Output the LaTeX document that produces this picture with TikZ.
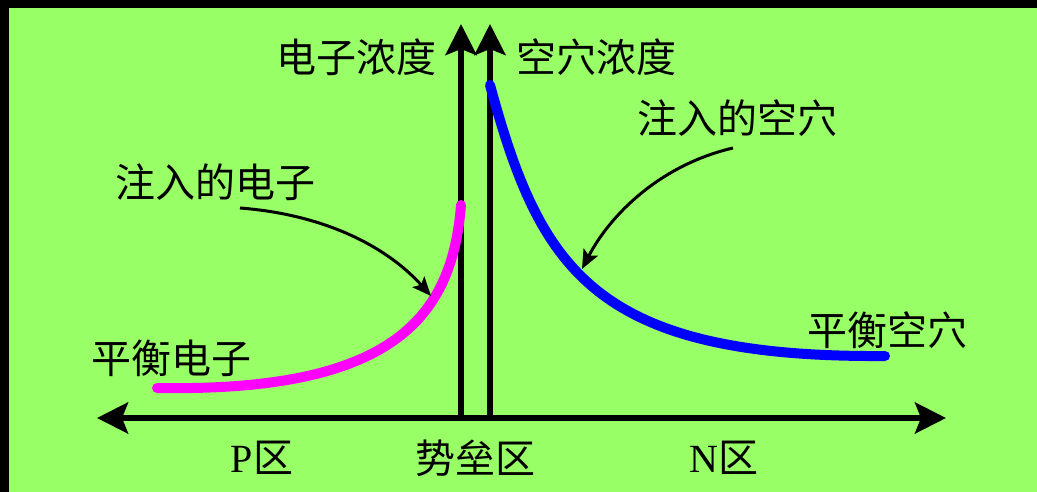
\documentclass[tikz,border=0pt]{standalone}
\usepackage{fontspec}
\setmainfont{Liberation Serif}
\newfontfamily\cjk{Noto Sans CJK SC}
\usetikzlibrary{arrows.meta}
\definecolor{bgreen}{RGB}{153,255,102}
\definecolor{emag}{RGB}{255,0,255}
\definecolor{hblue}{RGB}{0,0,255}

\begin{document}
\begin{tikzpicture}[x=1pt, y=-1pt,
    every node/.style={font=\fontsize{40}{48}\selectfont\cjk, inner sep=0pt},
    axis/.style={line width=5.5pt, -{Stealth[length=31pt, width=31pt, inset=6pt]}},
    conc/.style={line width=10pt, line cap=round},
    pointer/.style={line width=3pt, -{Stealth[length=19pt, width=16pt, inset=4pt]}}]
    % Background
    \fill[black] (0,0) rectangle (1037,492);
    \fill[bgreen] (9,8) rectangle (1037,492);
    \useasboundingbox (0,0) rectangle (1037,492);
    % Axes
    \coordinate (O) at (475,418);
    \coordinate (L) at (97,418);
    \coordinate (R) at (946,418);
    \coordinate (E0) at (461,418);
    \coordinate (E1) at (461,24);
    \coordinate (H0) at (490,418);
    \coordinate (H1) at (490,24);
    \draw[axis] (O) -- (L);
    \draw[axis] (O) -- (R);
    \draw[axis] (E0) -- (E1);
    \draw[axis] (H0) -- (H1);
    % Concentration curves
    \coordinate (e0) at (157,388);
    \coordinate (e1) at (461,205);
    \coordinate (h0) at (490,85);
    \coordinate (h1) at (885,356);
    \draw[conc, emag] (e0) .. controls (390,392) and (452,320) .. (e1);
    \draw[conc, hblue] (h0) .. controls (540,268) and (592,358) .. (h1);
    % Labels
    \node (ne) at (356,57) {电子浓度};
    \node (nh) at (596,57) {空穴浓度};
    \node (ie) at (215,182) {注入的电子};
    \node (ih) at (737,118) {注入的空穴};
    \node (be) at (171,358) {平衡电子};
    \node (bh) at (887,330) {平衡空穴};
    \node (p) at (262,458) {{\rmfamily P}区};
    \node (b) at (475,458) {势垒区};
    \node (n) at (724,458) {{\rmfamily N}区};
    % Pointers
    \coordinate (ae0) at (240,208);
    \coordinate (ae1) at (431,296);
    \coordinate (ah0) at (733,148);
    \coordinate (ah1) at (582,269);
    \draw[pointer] (ae0) .. controls (330,215) and (390,250) .. (ae1);
    \draw[pointer] (ah0) .. controls (660,165) and (610,215) .. (ah1);
\end{tikzpicture}
\end{document}
